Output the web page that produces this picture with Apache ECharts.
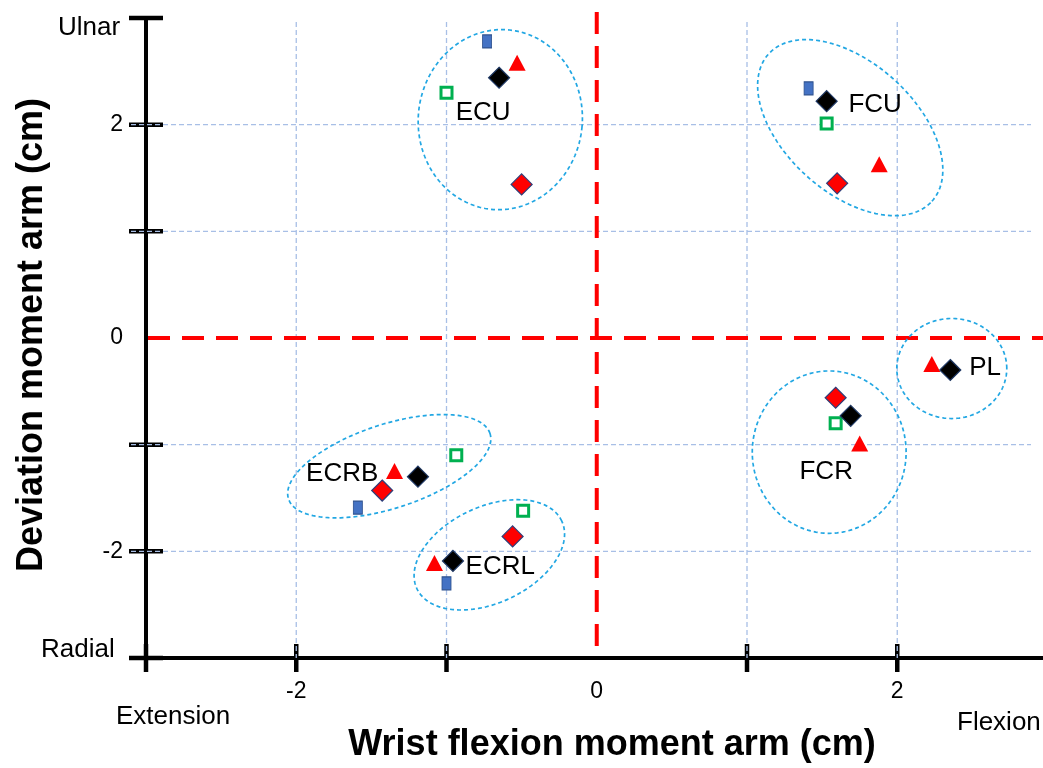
<!DOCTYPE html>
<html>
<head>
<meta charset="utf-8">
<title>Wrist moment arms</title>
<script src="https://cdn.jsdelivr.net/npm/echarts@6/dist/echarts.min.js"></script>
<style>
  html, body { margin: 0; padding: 0; background: #ffffff; }
  #chart { width: 1043px; height: 768px; }
</style>
</head>
<body>
<div id="chart"></div>
<script>
// ---- axis values ----
const xTickLabels = [-2, 0, 2];
const yTickLabels = [-2, 0, 2];
const xTickMarks = [-3, -2, -1, 1, 2];
const yTickMarks = [3, 2, 1, -1, -2, -3];
const xGridValues = [-2, -1, 1, 2];
const yGridValues = [2, 1, -1, -2];
const zeroLines = [[0, 0]];

// ---- moment arms (x: flexion, y: deviation), cm ----
const blueSquares = [[-0.73, 2.78], [1.41, 2.34], [-1.59, -1.59], [-1.00, -2.30]];
const greenSquares = [[-1.00, 2.30], [1.53, 2.01], [1.59, -0.80], [-0.935, -1.10], [-0.49, -1.62]];
const redTriangles = [[-0.53, 2.58], [1.88, 1.63], [2.23, -0.244], [1.75, -0.99], [-1.346, -1.246], [-1.08, -2.11]];
const blackDiamonds = [[-0.65, 2.44], [1.53, 2.22], [2.353, -0.30], [1.69, -0.73], [-1.19, -1.30], [-0.957, -2.09]];
const redDiamonds = [[-0.50, 1.44], [1.60, 1.45], [1.59, -0.56], [-1.428, -1.43], [-0.56, -1.86]];

// ---- muscle groups: name anchors and enclosing ellipses ----
const muscleNames = ['ECU', 'FCU', 'PL', 'FCR', 'ECRB', 'ECRL'];
const muscleNameX = [-0.756, 1.853, 2.585, 1.527, -1.694, -0.642];
const muscleNameY = [2.113, 2.188, -0.282, -1.258, -1.278, -2.141];
// [centre x, centre y, semi-axis (x units), semi-axis (y units), tilt in degrees]
const groupEllipses = [
  [-0.642, 2.047, 0.546, 0.845, -6],
  [1.687, 1.972, 0.732, 0.610, -42],
  [2.363, -0.286, 0.366, 0.469, 0],
  [1.547, -1.070, 0.512, 0.761, 0],
  [-1.381, -1.202, 0.705, 0.394, 18],
  [-0.715, -2.033, 0.532, 0.451, 25]
];

const FONT = '"Liberation Sans", Arial, sans-serif';
const GRID_COLOR = '#a8bfe6';
const DASH_GRID = [5, 3];

const chart = echarts.init(document.getElementById('chart'), null, { renderer: 'canvas' });

function renderEllipse(params, api) {
  const c = api.coord([api.value(0), api.value(1)]);
  const r = api.size([api.value(2), api.value(3)]);
  const th = api.value(4) * Math.PI / 180;
  const pts = [];
  const n = 180;
  for (let i = 0; i < n; i++) {
    const t = (i / n) * Math.PI * 2;
    const ux = r[0] * Math.cos(t);
    const uy = r[1] * Math.sin(t);
    pts.push([
      c[0] + ux * Math.cos(th) - uy * Math.sin(th),
      c[1] - (ux * Math.sin(th) + uy * Math.cos(th))
    ]);
  }
  return {
    type: 'polygon',
    shape: { points: pts },
    style: { fill: 'none', stroke: '#22a7e3', lineWidth: 1.7, lineDash: [4, 3] }
  };
}

function renderVGrid(params, api) {
  const cs = params.coordSys;
  const x = api.coord([api.value(0), api.value(1)])[0];
  return {
    type: 'line',
    shape: { x1: x, y1: cs.y + 4, x2: x, y2: cs.y + cs.height },
    style: { stroke: GRID_COLOR, lineWidth: 1.3, lineDash: DASH_GRID }
  };
}

function renderHGrid(params, api) {
  const cs = params.coordSys;
  const y = api.coord([api.value(0), api.value(1)])[1];
  return {
    type: 'line',
    shape: { x1: cs.x - 15, y1: y, x2: cs.x + cs.width - 12, y2: y },
    style: { stroke: GRID_COLOR, lineWidth: 1.3, lineDash: DASH_GRID }
  };
}

// red dashed lines through the origin
function renderZeroLines(params, api) {
  const cs = params.coordSys;
  const p = api.coord([api.value(0), api.value(1)]);
  const st = { stroke: '#ff0000', lineWidth: 4, lineDash: [22, 12] };
  return {
    type: 'group',
    children: [
      { type: 'line', shape: { x1: p[0], y1: cs.y - 6, x2: p[0], y2: cs.y + cs.height - 3 }, style: st },
      { type: 'line', shape: { x1: cs.x + 2, y1: p[1], x2: cs.x + cs.width, y2: p[1] }, style: st }
    ]
  };
}

// ticks straddle the axis line
function renderXTick(params, api) {
  const cs = params.coordSys;
  const x = api.coord([api.value(0), api.value(1)])[0];
  const y0 = cs.y + cs.height;
  return {
    type: 'line',
    shape: { x1: x, y1: y0 - 14, x2: x, y2: y0 + 14 },
    style: { stroke: '#000', lineWidth: 4.5 }
  };
}

function renderYTick(params, api) {
  const cs = params.coordSys;
  const y = api.coord([api.value(0), api.value(1)])[1];
  const x0 = cs.x;
  return {
    type: 'line',
    shape: { x1: x0 - 17, y1: y, x2: x0 + 17, y2: y },
    style: { stroke: '#000', lineWidth: 4.5 }
  };
}

function tickFormatter(list) {
  return function (v) {
    return list.indexOf(Math.round(v * 1000) / 1000) >= 0 ? String(v) : '';
  };
}

const solid = { opacity: 1 };

const option = {
  animation: false,
  backgroundColor: '#ffffff',
  grid: { left: 146, top: 18, width: 897, height: 640, containLabel: false },
  xAxis: {
    type: 'value', min: -3, max: 2.97, interval: 1,
    axisLine: { show: true, onZero: false, lineStyle: { color: '#000', width: 4 } },
    axisTick: { show: false },
    splitLine: { show: false },
    axisLabel: {
      show: true, margin: 22, fontFamily: FONT, fontSize: 23, color: '#000',
      showMaxLabel: false,
      formatter: tickFormatter(xTickLabels)
    }
  },
  yAxis: {
    type: 'value', min: -3, max: 3, interval: 1,
    axisLine: { show: true, onZero: false, lineStyle: { color: '#000', width: 4 } },
    axisTick: { show: false },
    splitLine: { show: false },
    axisLabel: {
      show: true, margin: 23, fontFamily: FONT, fontSize: 23, color: '#000',
      formatter: tickFormatter(yTickLabels)
    }
  },
  graphic: [
    { type: 'text', left: 58, top: 15, style: { text: 'Ulnar', font: '26px ' + FONT, fill: '#000' } },
    { type: 'text', left: 41, top: 637, style: { text: 'Radial', font: '26px ' + FONT, fill: '#000' } },
    { type: 'text', left: 116, top: 704, style: { text: 'Extension', font: '26px ' + FONT, fill: '#000' } },
    { type: 'text', left: 957, top: 710, style: { text: 'Flexion', font: '26px ' + FONT, fill: '#000' } },
    {
      type: 'text', x: 612, y: 745,
      style: { text: 'Wrist flexion moment arm (cm)', font: 'bold 36px ' + FONT, fill: '#000', align: 'center', verticalAlign: 'middle' }
    },
    {
      type: 'text', x: 32, y: 335, rotation: Math.PI / 2,
      style: { text: 'Deviation moment arm (cm)', font: 'bold 36px ' + FONT, fill: '#000', align: 'center', verticalAlign: 'middle' }
    }
  ],
  series: [
    {
      name: 'xTicks', type: 'custom', clip: false, z: 1, silent: true,
      data: xTickMarks.map(v => [v, 0]), encode: { x: 0, y: 1 },
      renderItem: renderXTick
    },
    {
      name: 'yTicks', type: 'custom', clip: false, z: 1, silent: true,
      data: yTickMarks.map(v => [0, v]), encode: { x: 0, y: 1 },
      renderItem: renderYTick
    },
    {
      name: 'vGrid', type: 'custom', clip: false, z: 2, silent: true,
      data: xGridValues.map(v => [v, 0]), encode: { x: 0, y: 1 },
      renderItem: renderVGrid
    },
    {
      name: 'hGrid', type: 'custom', clip: false, z: 2, silent: true,
      data: yGridValues.map(v => [0, v]), encode: { x: 0, y: 1 },
      renderItem: renderHGrid
    },
    {
      name: 'zero', type: 'custom', clip: false, z: 3, silent: true,
      data: zeroLines, encode: { x: 0, y: 1 },
      renderItem: renderZeroLines
    },
    {
      name: 'groups', type: 'custom', clip: false, z: 3, silent: true,
      data: groupEllipses, encode: { x: 0, y: 1 },
      renderItem: renderEllipse
    },
    {
      name: 'Blue squares', type: 'scatter', z: 5,
      symbol: 'rect', symbolSize: [9, 13],
      itemStyle: Object.assign({ color: '#4472c4', borderColor: '#2f528f', borderWidth: 1 }, solid),
      data: blueSquares
    },
    {
      name: 'Green squares', type: 'scatter', z: 5,
      symbol: 'rect', symbolSize: 11,
      itemStyle: Object.assign({ color: '#ffffff', borderColor: '#00b050', borderWidth: 3 }, solid),
      data: greenSquares
    },
    {
      name: 'Red triangles', type: 'scatter', z: 5,
      symbol: 'triangle', symbolSize: [17, 16],
      itemStyle: Object.assign({ color: '#ff0000' }, solid),
      data: redTriangles
    },
    {
      name: 'Red diamonds', type: 'scatter', z: 5,
      symbol: 'diamond', symbolSize: 21,
      itemStyle: Object.assign({ color: '#ff0000', borderColor: '#2f3d78', borderWidth: 1.2 }, solid),
      data: redDiamonds
    },
    {
      name: 'Black diamonds', type: 'scatter', z: 6,
      symbol: 'diamond', symbolSize: 21,
      itemStyle: Object.assign({ color: '#000000', borderColor: '#1f3864', borderWidth: 1.2 }, solid),
      data: blackDiamonds
    },
    {
      name: 'Muscle names', type: 'scatter', z: 7, silent: true,
      symbolSize: 0,
      itemStyle: solid,
      data: muscleNames.map((n, i) => ({ name: n, value: [muscleNameX[i], muscleNameY[i]] })),
      label: {
        show: true, position: 'inside', formatter: '{b}',
        fontFamily: FONT, fontSize: 26, color: '#000'
      }
    }
  ]
};

chart.setOption(option);
</script>
</body>
</html>
